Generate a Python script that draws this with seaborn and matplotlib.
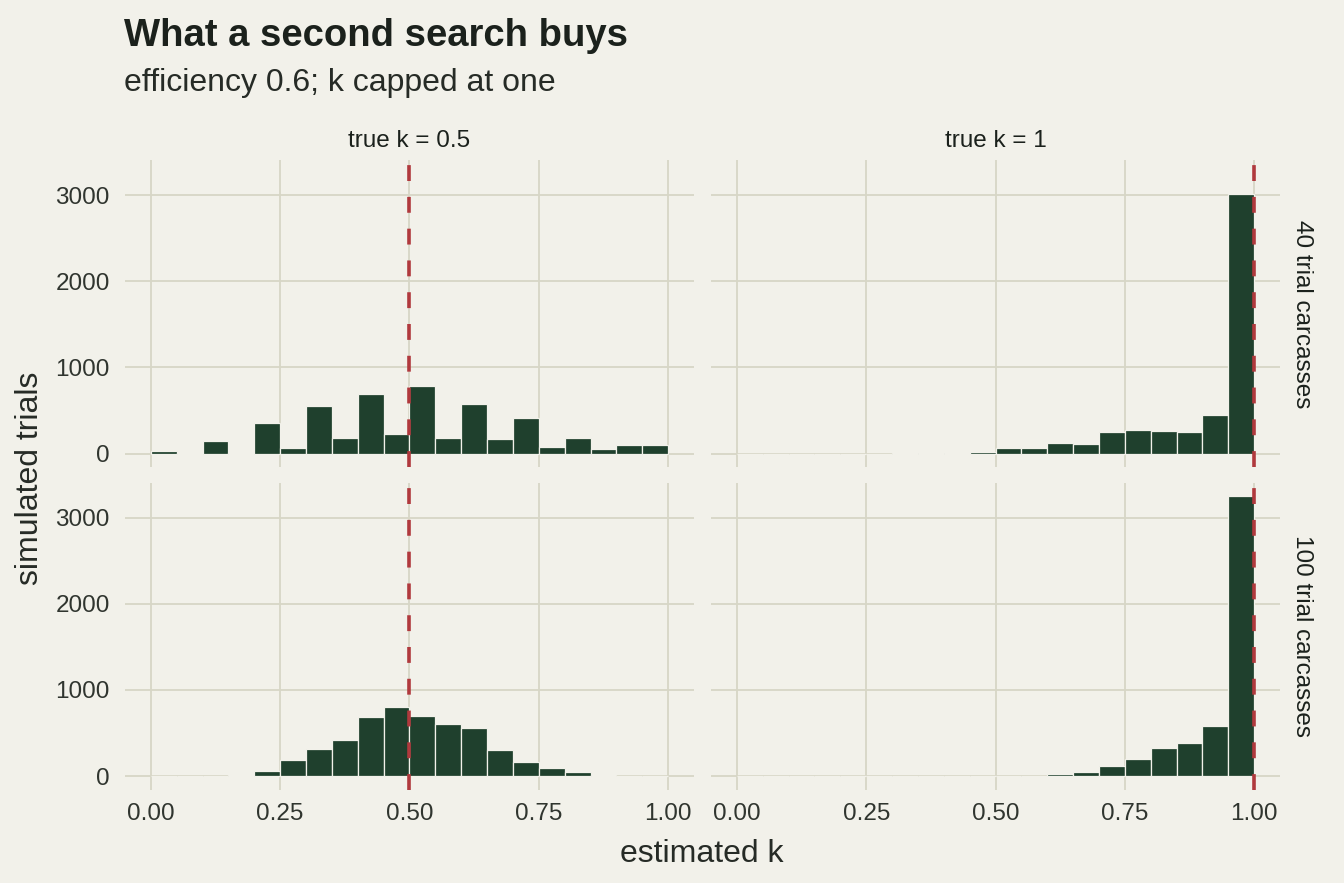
import numpy as np
import pandas as pd
import matplotlib
matplotlib.use("Agg")
import matplotlib.pyplot as plt
import seaborn as sns

# histogram bins for the estimated k (20 bins of width 0.05)
bin_edges = np.linspace(0, 1, 21)
bin_mids = (bin_edges[:-1] + bin_edges[1:]) / 2

true_k = ["0.5", "1"]
carcasses = ["40", "100"]

# counts, one list per panel
counts_k05_n40 = [30, 3, 150, 5, 350, 62, 548, 182, 686, 225, 787, 182, 572, 170, 418, 80, 182, 57, 104, 100]
counts_k05_n100 = [0, 0, 0, 8, 60, 185, 320, 420, 682, 802, 698, 604, 556, 298, 165, 90, 52, 10, 0, 0]
counts_k1_n40 = [0, 0, 0, 0, 0, 0, 2, 3, 5, 19, 68, 60, 122, 115, 246, 278, 266, 250, 445, 3012]
counts_k1_n100 = [0, 0, 0, 0, 0, 0, 0, 0, 0, 0, 0, 2, 22, 52, 122, 202, 325, 382, 578, 3248]

panels = {
    ("0.5", "40"): counts_k05_n40,
    ("0.5", "100"): counts_k05_n100,
    ("1", "40"): counts_k1_n40,
    ("1", "100"): counts_k1_n100,
}

rows = []
for (k, n), cnt in panels.items():
    for m, c in zip(bin_mids, cnt):
        rows.append({"k": k, "n": n, "mid": m, "count": c})
df = pd.DataFrame(rows)

bg = "#F2F1EA"
grid_col = "#D7D6C6"
bar_col = "#1F402D"
red = "#B0393D"
txt = "#1B211C"
tick_txt = "#30352F"

sns.set_theme(style="white")
plt.rcParams["font.family"] = ["Liberation Sans", "DejaVu Sans"]
plt.rcParams["axes.titlepad"] = 9.5

g = sns.FacetGrid(df, row="n", col="k", row_order=carcasses, col_order=true_k,
                  margin_titles=True, sharex=True, sharey=True, despine=False)
g.map_dataframe(sns.histplot, x="mid", weights="count", bins=list(bin_edges),
                color=bar_col, edgecolor=bg, linewidth=0.9, alpha=1)

fig = g.figure
fig.set_size_inches(13.44, 8.83)
fig.set_dpi(100)
fig.patch.set_facecolor(bg)

for (n, k), ax in g.axes_dict.items():
    ax.set_facecolor(bg)
    for s in ax.spines.values():
        s.set_visible(False)
    ax.set_axisbelow(True)
    ax.grid(True, color=grid_col, linewidth=1.3)
    ax.axvline(float(k), color=red, linewidth=2.6, linestyle=(0, (4.4, 4.4)), zorder=5)
    ax.set_xlim(-0.05, 1.05)
    ax.set_ylim(-162, 3410)
    ax.set_xticks([0, 0.25, 0.5, 0.75, 1.0])
    ax.set_xticklabels(["0.00", "0.25", "0.50", "0.75", "1.00"])
    ax.set_yticks([0, 1000, 2000, 3000])
    ax.tick_params(axis="both", length=0, labelsize=17.5, labelcolor=tick_txt)
    ax.tick_params(axis="x", pad=9)
    ax.tick_params(axis="y", pad=11)
    ax.set_xlabel("")
    ax.set_ylabel("")

g.set_titles(row_template="{row_name} trial carcasses", col_template="true k = {col_name}",
             size=17.5, color=txt)

W, H = 1344, 883
fig.subplots_adjust(left=125 / W, right=1280 / W, top=1 - 160 / H, bottom=1 - 790 / H,
                    wspace=0.03, hspace=0.049)

fig.text(124 / W, 1 - 46 / H, "What a second search buys", fontsize=27.5,
         fontweight="bold", color=txt, ha="left", va="baseline")
fig.text(124 / W, 1 - 91 / H, "efficiency 0.6; k capped at one", fontsize=23,
         color="#262B26", ha="left", va="baseline")
fig.text(702 / W, 1 - 862 / H, "estimated k", fontsize=23, color="#262B26",
         ha="center", va="baseline")
fig.text(30 / W, 1 - 478 / H, "simulated trials", fontsize=23, color="#262B26",
         ha="center", va="center", rotation=90)

fig.savefig("out.png", dpi=100, facecolor=bg)
